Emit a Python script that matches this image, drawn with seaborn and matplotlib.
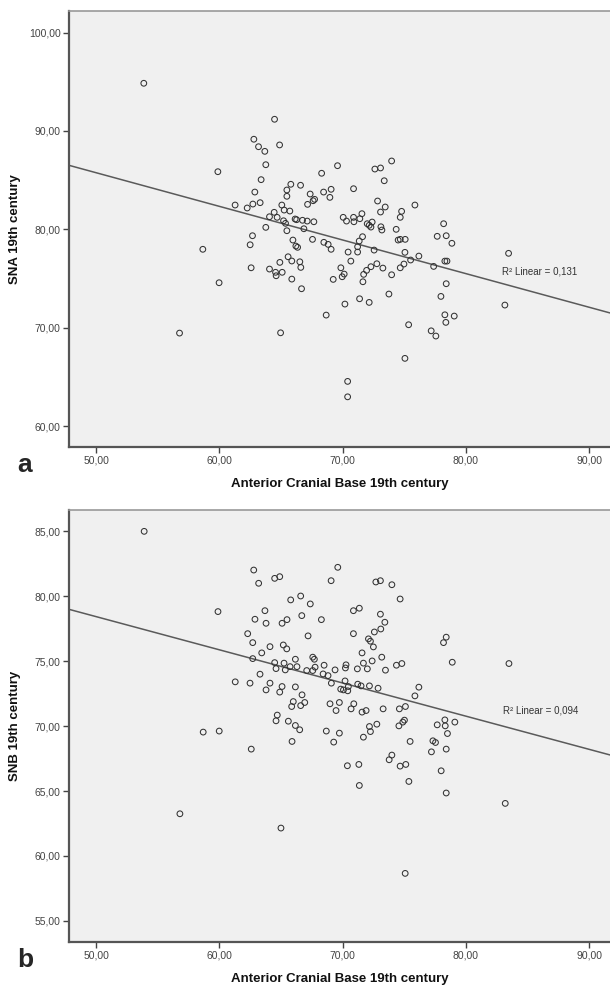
import matplotlib
matplotlib.use("Agg")
import matplotlib.pyplot as plt
from matplotlib.ticker import FuncFormatter
import seaborn as sns

# Panel a: Anterior Cranial Base vs SNA (19th century)
acb_a = [64.48, 62.80, 63.18, 63.69, 64.89, 63.77, 59.88, 63.39, 68.30, 69.59,
         65.80, 66.59, 65.48, 65.48, 62.88, 67.37, 68.46, 69.07, 68.97, 67.73,
         67.61, 67.16, 61.28, 62.26, 62.72, 63.31, 65.07, 65.26, 65.72, 64.45,
         64.07, 64.69, 65.21, 65.37, 66.15, 66.27, 66.75, 67.13, 67.67, 66.86,
         65.48, 63.77, 62.69, 62.50, 58.66, 65.97, 66.21, 66.35, 67.56, 68.48,
         68.83, 69.07, 65.58, 64.91, 65.88, 66.53, 66.61, 62.58, 64.07, 64.56,
         64.61, 65.10, 65.88, 66.67, 59.98, 69.24, 68.67, 64.97,
         73.98, 72.62, 73.08, 73.38, 70.89, 72.84, 73.46, 73.08, 75.87, 74.79,
         74.68, 71.57, 70.05, 70.32, 70.89, 70.92, 71.40, 72.00, 72.16, 72.30,
         72.40, 73.11, 73.19, 74.35, 74.51, 74.68, 75.08, 71.62, 71.35, 71.22,
         70.45, 71.22, 70.67, 72.56, 75.06, 75.52, 76.19, 74.98, 74.68, 72.78,
         72.30, 73.27, 71.95, 71.71, 71.65, 73.98, 69.86, 70.13, 69.97, 70.19,
         71.38, 72.16, 73.76, 77.39, 78.30, 78.47, 78.41, 77.98, 78.20, 77.68,
         78.41, 78.87, 78.30, 79.06, 78.38, 75.36, 77.19, 77.57, 75.06,
         53.87, 56.77, 83.47, 83.17, 70.41, 70.41]
sna = [91.19, 89.16, 88.40, 87.93, 88.58, 86.57, 85.86, 85.05, 85.70, 86.47,
       84.58, 84.48, 84.00, 83.36, 83.79, 83.59, 83.79, 84.07, 83.25, 83.05,
       82.91, 82.54, 82.47, 82.17, 82.57, 82.71, 82.47, 81.96, 81.86, 81.73,
       81.28, 81.22, 80.87, 80.61, 81.05, 80.98, 80.92, 80.84, 80.77, 80.06,
       79.86, 80.20, 79.35, 78.43, 77.97, 78.91, 78.30, 78.17, 78.98, 78.68,
       78.47, 77.97, 77.21, 76.64, 76.78, 76.70, 76.13, 76.09, 75.96, 75.63,
       75.28, 75.63, 74.94, 73.96, 74.57, 74.91, 71.28, 69.48,
       86.95, 86.13, 86.24, 84.94, 84.13, 82.88, 82.27, 81.76, 82.47, 81.83,
       81.22, 81.59, 81.22, 80.84, 81.22, 80.77, 81.08, 80.57, 80.41, 80.23,
       80.74, 80.26, 79.93, 80.00, 78.91, 78.98, 78.98, 79.25, 78.81, 78.23,
       77.69, 77.69, 76.77, 77.89, 77.66, 76.88, 77.28, 76.47, 76.09, 76.50,
       76.20, 76.06, 75.83, 75.42, 74.67, 75.38, 76.09, 75.45, 75.18, 72.40,
       72.94, 72.57, 73.42, 76.23, 76.77, 76.77, 74.47, 73.18, 80.57, 79.29,
       79.35, 78.58, 71.31, 71.18, 70.54, 70.30, 69.68, 69.15, 66.88,
       94.85, 69.45, 77.56, 72.30, 64.54, 62.97]

# Panel b: Anterior Cranial Base vs SNB (19th century)
acb_b = [62.79, 63.19, 64.49, 64.90, 69.07, 59.89, 63.70, 62.89, 63.79, 65.79,
         66.60, 67.38, 65.49, 65.09, 66.69, 68.28, 62.30, 62.71, 67.20, 64.11,
         65.19, 65.47, 63.44, 62.71, 64.49, 64.60, 65.25, 65.35, 65.74, 66.17,
         66.30, 67.58, 67.71, 67.77, 67.09, 67.58, 68.50, 68.42, 68.82, 69.39,
         69.09, 63.30, 61.29, 62.49, 64.11, 63.79, 64.90, 65.09, 66.17, 66.71,
         66.93, 66.00, 65.87, 66.60, 68.98, 69.47, 69.74, 64.70, 64.60, 65.60,
         66.17, 66.52, 58.69, 59.99, 68.68, 69.28, 69.74, 65.90, 62.59, 65.00,
         69.85,
         69.61, 72.70, 73.07, 74.00, 74.67, 70.88, 71.36, 73.07, 73.43, 73.10,
         72.58, 70.88, 72.10, 72.26, 72.50, 71.58, 78.41, 78.19, 78.90, 73.18,
         72.40, 71.69, 70.28, 70.23, 71.20, 72.01, 73.48, 74.37, 74.81, 70.20,
         70.47, 70.07, 70.42, 71.23, 71.50, 72.18, 72.88, 76.19, 75.87, 70.91,
         70.69, 71.58, 71.91, 73.29, 74.61, 75.10, 75.02, 74.89, 74.57, 72.78,
         72.18, 72.26, 71.69, 75.48, 77.68, 78.30, 79.11, 78.33, 78.51, 77.33,
         77.54, 77.21, 78.41, 74.00, 73.78, 74.67, 75.13, 70.39, 71.32, 78.00,
         71.36, 75.38, 78.41,
         53.90, 56.80, 83.50, 83.20, 75.08]
snb = [82.02, 81.00, 81.38, 81.51, 81.20, 78.82, 78.89, 78.23, 77.92, 79.72,
       80.02, 79.41, 78.20, 77.92, 78.51, 78.20, 77.12, 76.43, 76.95, 76.12,
       76.25, 75.95, 75.64, 75.20, 74.89, 74.43, 74.85, 74.33, 74.58, 75.15,
       74.58, 75.31, 75.15, 74.54, 74.28, 74.28, 74.69, 74.02, 73.89, 74.33,
       73.31, 74.00, 73.41, 73.31, 73.31, 72.79, 72.62, 73.05, 73.02, 72.41,
       71.82, 71.89, 71.51, 71.58, 71.72, 71.20, 71.82, 70.85, 70.41, 70.38,
       70.05, 69.72, 69.54, 69.62, 69.62, 68.77, 69.46, 68.82, 68.23, 62.15,
       72.85,
       82.23, 81.10, 81.20, 80.89, 79.79, 78.89, 79.08, 78.62, 78.00, 77.48,
       77.25, 77.12, 76.72, 76.54, 76.10, 75.64, 76.85, 76.43, 74.92, 75.31,
       75.02, 74.85, 74.72, 74.48, 74.41, 74.41, 74.31, 74.69, 74.82, 73.48,
       73.05, 72.79, 72.72, 73.23, 73.10, 73.10, 72.92, 73.00, 72.33, 71.72,
       71.33, 71.08, 71.20, 71.33, 71.33, 71.51, 70.46, 70.31, 70.02, 70.15,
       69.97, 69.58, 69.15, 68.82, 70.10, 70.48, 70.31, 70.02, 69.43, 68.87,
       68.74, 68.02, 68.23, 67.77, 67.41, 66.92, 67.05, 66.95, 67.05, 66.56,
       65.43, 65.74, 64.85,
       85.00, 63.25, 74.82, 64.05, 58.66]

r2_labels = ["R\u00b2 Linear = 0,131", "R\u00b2 Linear = 0,094"]
y_labels = ["SNA 19th century", "SNB 19th century"]
x_label = "Anterior Cranial Base 19th century"
panel_letters = ["a", "b"]
x_ticks = [50, 60, 70, 80, 90]
y_ticks_a = [60, 70, 80, 90, 100]
y_ticks_b = [55, 60, 65, 70, 75, 80, 85]

sns.set_theme(style="white")
plt.rcParams["font.family"] = ["Liberation Sans", "DejaVu Sans"]

fig = plt.figure(figsize=(6.1, 9.9), dpi=100)
ax_a = fig.add_axes([0.1131, 0.5488, 0.8869, 0.4401])
ax_b = fig.add_axes([0.1131, 0.0488, 0.8869, 0.4360])

comma_fmt = FuncFormatter(lambda v, _: f"{v:.2f}".replace(".", ","))

panels = [
    (ax_a, acb_a, sna, y_ticks_a, (57.9, 102.2), (82.9, 75.7)),
    (ax_b, acb_b, snb, y_ticks_b, (53.4, 86.64), (83.0, 71.2)),
]

for i, (ax, xs, ys, yt, ylim, r2_pos) in enumerate(panels):
    ax.set_facecolor("#f0f0f0")
    ax.set_xlim(47.8, 91.7)
    ax.set_ylim(*ylim)
    sns.scatterplot(x=xs, y=ys, ax=ax, marker="o", s=17,
                    facecolors="none", edgecolors="#333333", linewidths=0.75,
                    zorder=3)
    sns.regplot(x=xs, y=ys, ax=ax, scatter=False, ci=None, truncate=False,
                color="#5a5a5a", line_kws={"lw": 1.1, "zorder": 2})
    ax.set_xlim(47.8, 91.7)
    ax.set_ylim(*ylim)
    ax.set_xticks(x_ticks)
    ax.set_yticks(yt)
    ax.xaxis.set_major_formatter(comma_fmt)
    ax.yaxis.set_major_formatter(comma_fmt)
    ax.tick_params(axis="both", which="major", direction="out", length=4,
                   width=1, color="#444444", labelsize=7.5,
                   labelcolor="#444444", pad=2, bottom=True, left=True)
    for side in ["left", "bottom"]:
        ax.spines[side].set_color("#555555")
        ax.spines[side].set_linewidth(1.6)
    ax.spines["top"].set_color("#999999")
    ax.spines["top"].set_linewidth(1.2)
    ax.spines["right"].set_visible(False)
    ax.set_xlabel(x_label, fontsize=9.5, fontweight="bold", color="#111111")
    ax.set_ylabel(y_labels[i], fontsize=9.5, fontweight="bold", color="#111111")
    ax.xaxis.set_label_coords(0.5, -0.072)
    ax.yaxis.set_label_coords(-0.088, 0.5)
    ax.text(r2_pos[0], r2_pos[1], r2_labels[i], fontsize=7, color="#333333",
            ha="left", va="center")

fig.text(0.028, 0.530, panel_letters[0], fontsize=19, fontweight="bold",
         ha="left", va="center")
fig.text(0.028, 0.030, panel_letters[1], fontsize=19, fontweight="bold",
         ha="left", va="center")

fig.savefig("out.png", dpi=100)
